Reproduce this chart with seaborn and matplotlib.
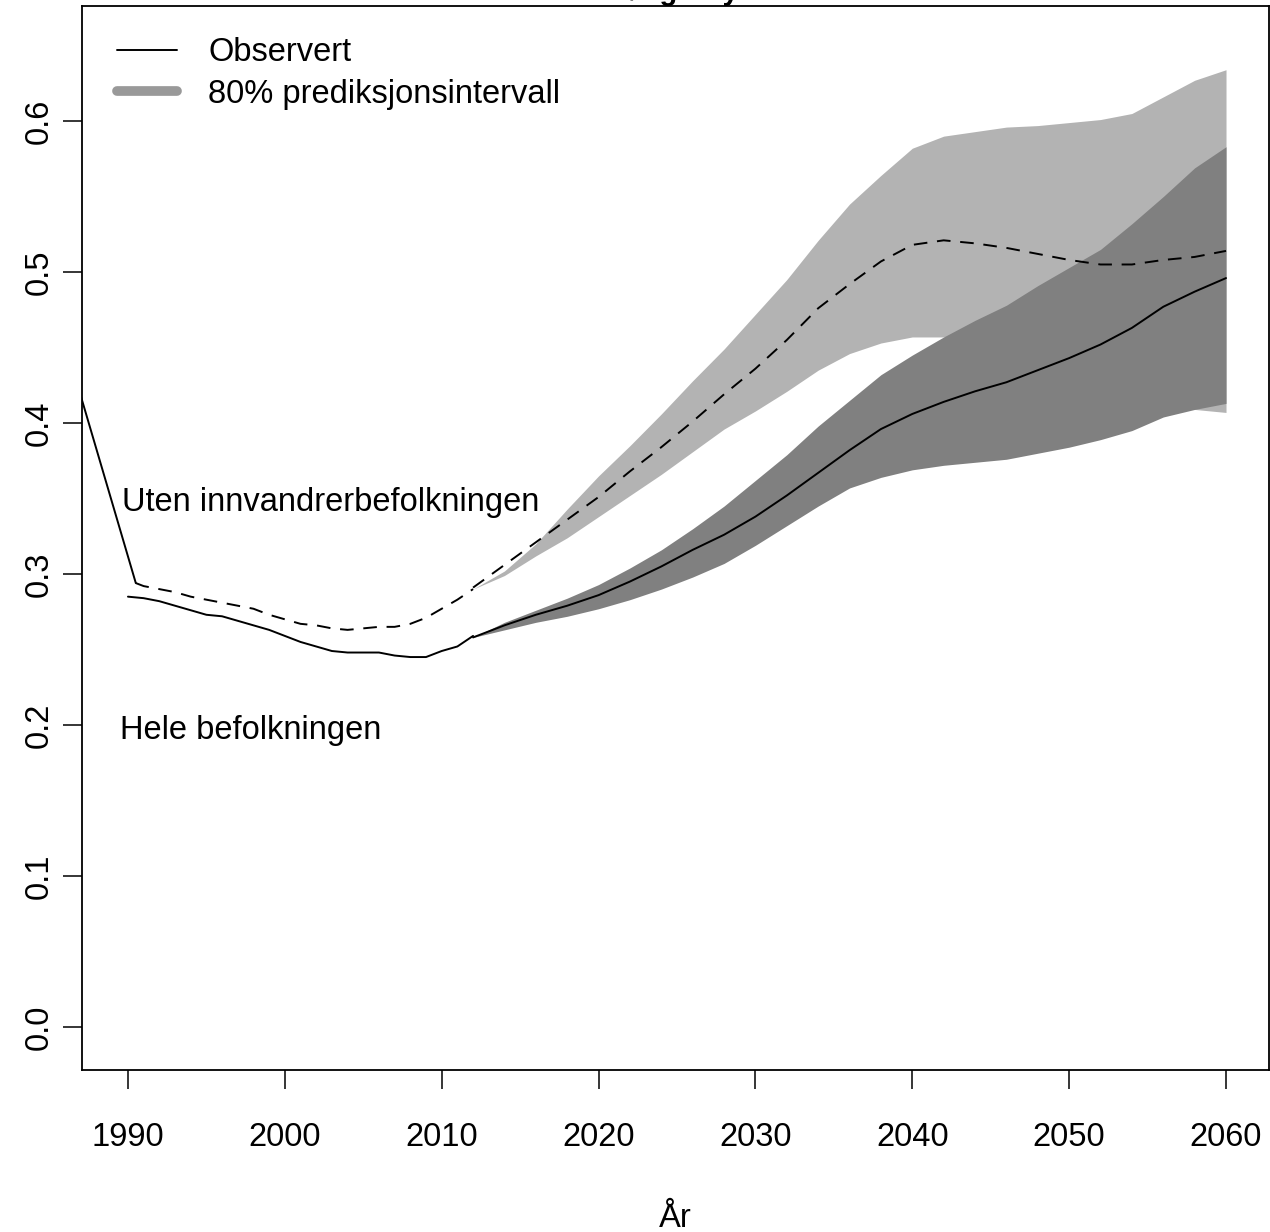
import numpy as np
import pandas as pd
import matplotlib
matplotlib.use("Agg")
import matplotlib.pyplot as plt
import seaborn as sns
from matplotlib.lines import Line2D

# Observed dependency ratio, whole population
obs_years = list(range(1990, 2013))
obs_total = [0.285, 0.284, 0.282, 0.279, 0.276, 0.273, 0.272, 0.269, 0.266, 0.263,
             0.259, 0.255, 0.252, 0.249, 0.248, 0.248, 0.248, 0.246, 0.245, 0.245,
             0.249, 0.252, 0.259]

# Observed dependency ratio, excluding the immigrant population
obs_years_native = [1990.5] + list(range(1991, 2013))
obs_native = [0.294, 0.292, 0.290, 0.288, 0.285, 0.283, 0.281, 0.279, 0.277, 0.273,
              0.270, 0.267, 0.266, 0.264, 0.263, 0.264, 0.265, 0.265, 0.267, 0.271,
              0.277, 0.283, 0.290]

# Earlier level leading into the series
lead_years = [1986.0, 1990.5]
lead_values = [0.453, 0.294]

# Projections (median and 80 % prediction interval)
proj_years = list(range(2012, 2061, 2))
proj_total = [0.258, 0.266, 0.273, 0.279, 0.286, 0.295, 0.305, 0.316, 0.326, 0.338,
              0.352, 0.367, 0.382, 0.396, 0.406, 0.414, 0.421, 0.427, 0.435, 0.443,
              0.452, 0.463, 0.477, 0.487, 0.496]
total_lo = [0.258, 0.263, 0.268, 0.272, 0.277, 0.283, 0.290, 0.298, 0.307, 0.319,
            0.332, 0.345, 0.357, 0.364, 0.369, 0.372, 0.374, 0.376, 0.380, 0.384,
            0.389, 0.395, 0.404, 0.409, 0.413]
total_hi = [0.258, 0.268, 0.276, 0.284, 0.293, 0.304, 0.316, 0.330, 0.345, 0.362,
            0.379, 0.398, 0.415, 0.432, 0.445, 0.457, 0.468, 0.478, 0.491, 0.503,
            0.515, 0.532, 0.550, 0.569, 0.583]
proj_native = [0.291, 0.306, 0.321, 0.336, 0.351, 0.368, 0.384, 0.401, 0.419, 0.436,
               0.455, 0.476, 0.492, 0.507, 0.518, 0.521, 0.519, 0.516, 0.512, 0.508,
               0.505, 0.505, 0.508, 0.510, 0.514]
native_lo = [0.290, 0.299, 0.312, 0.324, 0.338, 0.352, 0.366, 0.381, 0.396, 0.408,
             0.421, 0.435, 0.446, 0.453, 0.457, 0.457, 0.455, 0.450, 0.443, 0.436,
             0.428, 0.418, 0.412, 0.409, 0.407]
native_hi = [0.290, 0.302, 0.320, 0.343, 0.365, 0.385, 0.406, 0.428, 0.449, 0.472,
             0.495, 0.521, 0.545, 0.564, 0.582, 0.590, 0.593, 0.596, 0.597, 0.599,
             0.601, 0.605, 0.616, 0.627, 0.634]

x_ticks = [1990, 2000, 2010, 2020, 2030, 2040, 2050, 2060]
y_ticks = [0.0, 0.1, 0.2, 0.3, 0.4, 0.5, 0.6]

sns.set_style("white")
plt.rcParams["font.family"] = ["Liberation Sans", "DejaVu Sans"]
plt.rcParams["text.color"] = "black"
plt.rcParams["axes.labelcolor"] = "black"
plt.rcParams["xtick.color"] = "black"
plt.rcParams["ytick.color"] = "black"
FS = 23.5

fig = plt.figure(figsize=(12.7, 12.32), dpi=100)
ax = fig.add_axes([82 / 1270, 1 - 1070 / 1232, (1269 - 82) / 1270, (1070 - 6) / 1232])

proj = pd.DataFrame({"year": proj_years, "total": proj_total, "total_lo": total_lo,
                     "total_hi": total_hi, "native": proj_native,
                     "native_lo": native_lo, "native_hi": native_hi})

ax.fill_between(proj["year"], proj["native_lo"], proj["native_hi"],
                color="#b3b3b3", linewidth=0, zorder=1)
ax.fill_between(proj["year"], proj["total_lo"], proj["total_hi"],
                color="#808080", linewidth=0, zorder=2)

lw = 1.4
sns.lineplot(x=lead_years, y=lead_values, color="black", lw=lw, ax=ax, zorder=3)
sns.lineplot(x=obs_years, y=obs_total, color="black", lw=lw, ax=ax, zorder=3)
sns.lineplot(x=proj["year"], y=proj["total"], color="black", lw=lw, ax=ax, zorder=3)
for xs, ys in [(obs_years_native, obs_native), (proj["year"], proj["native"])]:
    ln = sns.lineplot(x=xs, y=ys, color="black", lw=lw, ax=ax, zorder=3).lines[-1]
    ln.set_dashes((7, 5))

ax.set_xlim(1987.07, 2062.74)
ax.set_ylim(-0.0285, 0.6762)
ax.set_xticks(x_ticks)
ax.set_yticks(y_ticks)
ax.set_xticklabels([str(v) for v in x_ticks], fontsize=FS)
ax.set_yticklabels([f"{v:.1f}" for v in y_ticks], fontsize=FS, rotation=90, va="center")
ax.tick_params(axis="x", bottom=True, direction="out", length=13.5, width=1.1, pad=24)
ax.tick_params(axis="y", left=True, direction="out", length=13.5, width=1.1, pad=6)
for s in ax.spines.values():
    s.set_visible(True)
    s.set_color("black")
    s.set_linewidth(1.3)
ax.set_xlabel("År", fontsize=FS, labelpad=36)
ax.set_ylabel("")

ax.text(1989.6, 0.3415, "Uten innvandrerbefolkningen", fontsize=FS, ha="left", va="baseline")
ax.text(1989.5, 0.1907, "Hele befolkningen", fontsize=FS, ha="left", va="baseline")

handles = [Line2D([], [], color="black", lw=lw),
           Line2D([], [], color="#999999", lw=7, solid_capstyle="round")]
ax.legend(handles, ["Observert", "80% prediksjonsintervall"], loc="upper left",
          bbox_to_anchor=(0.01, 0.992), frameon=False, fontsize=FS,
          handlelength=1.85, handletextpad=0.95, labelspacing=0.32, borderaxespad=0.3)

fig.text((82 + 1269) / 2 / 1270, 1.0, "Forsørgerbyrde", fontsize=21, fontweight="bold",
         ha="center", va="baseline")

fig.savefig("out.png", dpi=100)
